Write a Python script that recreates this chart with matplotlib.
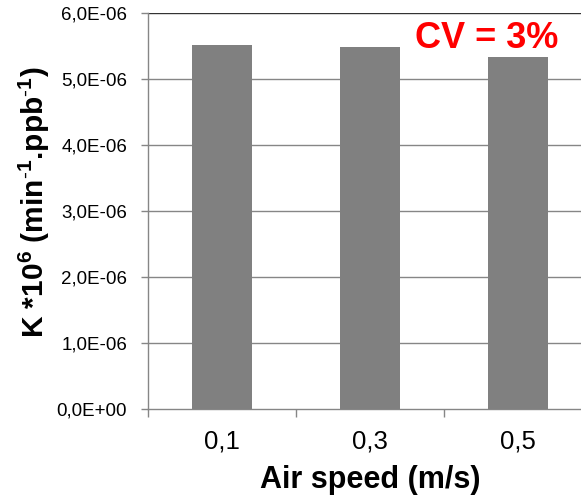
import numpy as np
import matplotlib.pyplot as plt

# rate constant K for each air speed
speeds = ['0,1', '0,3', '0,5']
k_values = [5.515e-06, 5.48e-06, 5.33e-06]
y_ticks = [0, 1e-06, 2e-06, 3e-06, 4e-06, 5e-06, 6e-06]
y_tick_labels = ['0,0E+00', '1,0E-06', '2,0E-06', '3,0E-06', '4,0E-06', '5,0E-06', '6,0E-06']

plt.rcParams['font.family'] = ['Liberation Sans', 'DejaVu Sans']
plt.rcParams['mathtext.fontset'] = 'custom'
plt.rcParams['mathtext.bf'] = 'Liberation Sans:bold'
plt.rcParams['mathtext.rm'] = 'Liberation Sans'

fig = plt.figure(figsize=(5.81, 4.96), dpi=100)
ax = fig.add_axes([148 / 581, 1 - 409 / 496, 444 / 581, 396 / 496])

x = np.arange(len(speeds))
ax.bar(x, k_values, width=0.4, color='#808080', zorder=3)

ax.set_ylim(0, 6e-06)
ax.set_xlim(-0.5, 2.5)
ax.set_yticks(y_ticks)
ax.set_yticklabels(y_tick_labels, fontsize=13.5)
for t in y_ticks[1:]:
    ax.axhline(t, color='#333333' if t == y_ticks[-1] else '#868686', lw=1, zorder=1)

ax.set_xticks(x)
ax.set_xticklabels(speeds, fontsize=18.5)
ax.set_xticks([-0.5, 0.5, 1.5, 2.5], minor=True)
ax.tick_params(axis='x', which='major', length=0, pad=15)
ax.tick_params(axis='x', which='minor', length=6, color='#868686', width=1)
ax.tick_params(axis='y', length=5, color='#868686', width=1, pad=10)

for s in ['top', 'right']:
    ax.spines[s].set_visible(False)
for s in ['left', 'bottom']:
    ax.spines[s].set_color('#868686')
    ax.spines[s].set_linewidth(1)

ax.set_xlabel('Air speed (m/s)', fontsize=22, fontweight='bold')
ax.xaxis.set_label_coords(0.5, -0.142)
ax.set_ylabel(r'K *10$^{\mathbf{6}}$ (min$^{\mathbf{\text{-}1}}$.ppb$^{\mathbf{\text{-}1}}$)',
              fontsize=21.5, fontweight='bold', va='center')
ax.yaxis.set_label_coords(-0.256, 0.522)

fig.text(487 / 581, 1 - 38 / 496, 'CV = 3%', color='#ff0000', fontsize=26,
         fontweight='bold', ha='center', va='center')

fig.savefig('out.png', dpi=100)
